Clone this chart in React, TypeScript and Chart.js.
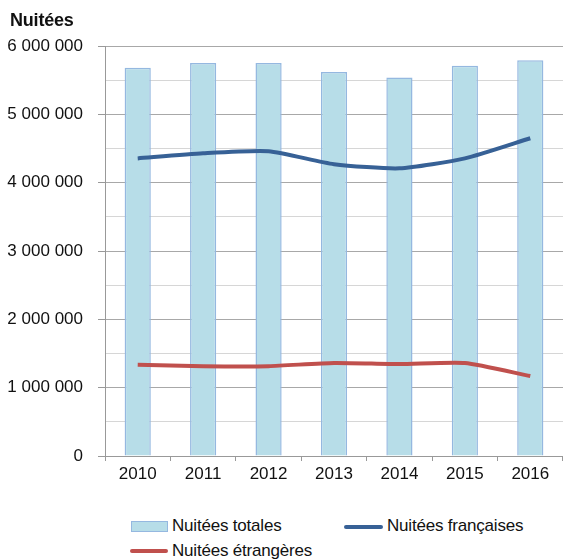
import React, { useEffect, useRef } from "react";
import { Chart, registerables } from "chart.js";

Chart.register(...registerables);

const years = ["2010", "2011", "2012", "2013", "2014", "2015", "2016"];
const totalLabel = "Nuitées totales";
const frenchLabel = "Nuitées françaises";
const foreignLabel = "Nuitées étrangères";
const totalValues = [5680000, 5750000, 5750000, 5620000, 5540000, 5710000, 5790000];
const frenchValues = [4355000, 4430000, 4460000, 4270000, 4210000, 4355000, 4650000];
const foreignValues = [1335000, 1315000, 1315000, 1362000, 1345000, 1362000, 1170000];
const yAxisTitle = "Nuitées";

const FONT = "'Liberation Sans', Arial, sans-serif";
const BAR_FILL = "#b7dde8";
const BAR_BORDER = "#95b8e0";
const BLUE = "#376196";
const RED = "#c0504d";

const fmt = (v: number) => String(v).replace(/\B(?=(\d{3})+(?!\d))/g, " ");

export default function App() {
  const ref = useRef<HTMLCanvasElement | null>(null);

  useEffect(() => {
    if (!ref.current) return;
    const chart = new Chart(ref.current, {
      type: "bar",
      data: {
        labels: years,
        datasets: [
          {
            type: "bar",
            label: totalLabel,
            data: totalValues,
            backgroundColor: BAR_FILL,
            borderColor: BAR_BORDER,
            borderWidth: 1.5,
            barPercentage: 0.8,
            categoryPercentage: 0.5,
            order: 2,
          },
          {
            type: "line",
            label: frenchLabel,
            data: frenchValues,
            borderColor: BLUE,
            borderWidth: 4,
            pointRadius: 0,
            tension: 0.2,
            order: 0,
          },
          {
            type: "line",
            label: foreignLabel,
            data: foreignValues,
            borderColor: RED,
            borderWidth: 4,
            pointRadius: 0,
            tension: 0.2,
            order: 1,
          },
        ] as any,
      },
      options: {
        animation: false,
        responsive: false,
        maintainAspectRatio: false,
        layout: { padding: { top: 46, left: 0, right: 0, bottom: 0 } },
        plugins: { legend: { display: false }, tooltip: { enabled: false }, title: { display: false } },
        scales: {
          x: {
            offset: true,
            grid: {
              offset: true,
              drawOnChartArea: false,
              drawTicks: true,
              tickLength: 5,
              color: "#999999",
            },
            border: { display: true, color: "#999999", width: 1 },
            ticks: {
              color: "#111111",
              font: { family: FONT, size: 17 },
              padding: 3,
              maxRotation: 0,
            },
            afterFit: (s: any) => {
              s.height = 34;
            },
          },
          y: {
            min: 0,
            max: 6000000,
            grid: {
              color: (ctx: any) =>
                ctx.tick && ctx.tick.value % 1000000 === 0 ? "#a8a8a8" : "#d6d6d6",
              tickColor: (ctx: any) =>
                ctx.tick && ctx.tick.value % 1000000 === 0 ? "#999999" : "rgba(0,0,0,0)",
              tickLength: 7,
              lineWidth: 1,
            },
            border: { display: true, color: "#999999", width: 1 },
            ticks: {
              stepSize: 500000,
              autoSkip: false,
              color: "#111111",
              font: { family: FONT, size: 17 },
              padding: 15,
              callback: (v: any) => (Number(v) % 1000000 === 0 ? fmt(Number(v)) : ""),
            },
            afterFit: (s: any) => {
              s.width = 105;
            },
          },
        },
      } as any,
    });
    return () => chart.destroy();
  }, []);

  const textStyle: React.CSSProperties = {
    position: "absolute",
    fontFamily: FONT,
    fontSize: 17,
    lineHeight: "20px",
    color: "#111111",
    whiteSpace: "nowrap",
    letterSpacing: "-0.2px",
  };

  return (
    <div style={{ position: "fixed", left: 0, top: 0, width: 563, height: 559, background: "#fff", overflow: "hidden" }}>
      <canvas ref={ref} width={563} height={490} style={{ position: "absolute", left: 0, top: 0, width: 563, height: 490 }} />
      <div style={{ ...textStyle, left: 10, top: 10, fontWeight: "bold", fontSize: 18 }}>{yAxisTitle}</div>
      <div
        style={{
          position: "absolute",
          left: 131,
          top: 521,
          width: 35,
          height: 9,
          background: BAR_FILL,
          border: `1.5px solid ${BAR_BORDER}`,
        }}
      />
      <div style={{ ...textStyle, left: 172, top: 516 }}>{totalLabel}</div>
      <div style={{ position: "absolute", left: 344, top: 525, width: 39, height: 4, background: BLUE, borderRadius: 2 }} />
      <div style={{ ...textStyle, left: 387, top: 516 }}>{frenchLabel}</div>
      <div style={{ position: "absolute", left: 130, top: 549, width: 38, height: 4, background: RED, borderRadius: 2 }} />
      <div style={{ ...textStyle, left: 172, top: 541 }}>{foreignLabel}</div>
    </div>
  );
}
